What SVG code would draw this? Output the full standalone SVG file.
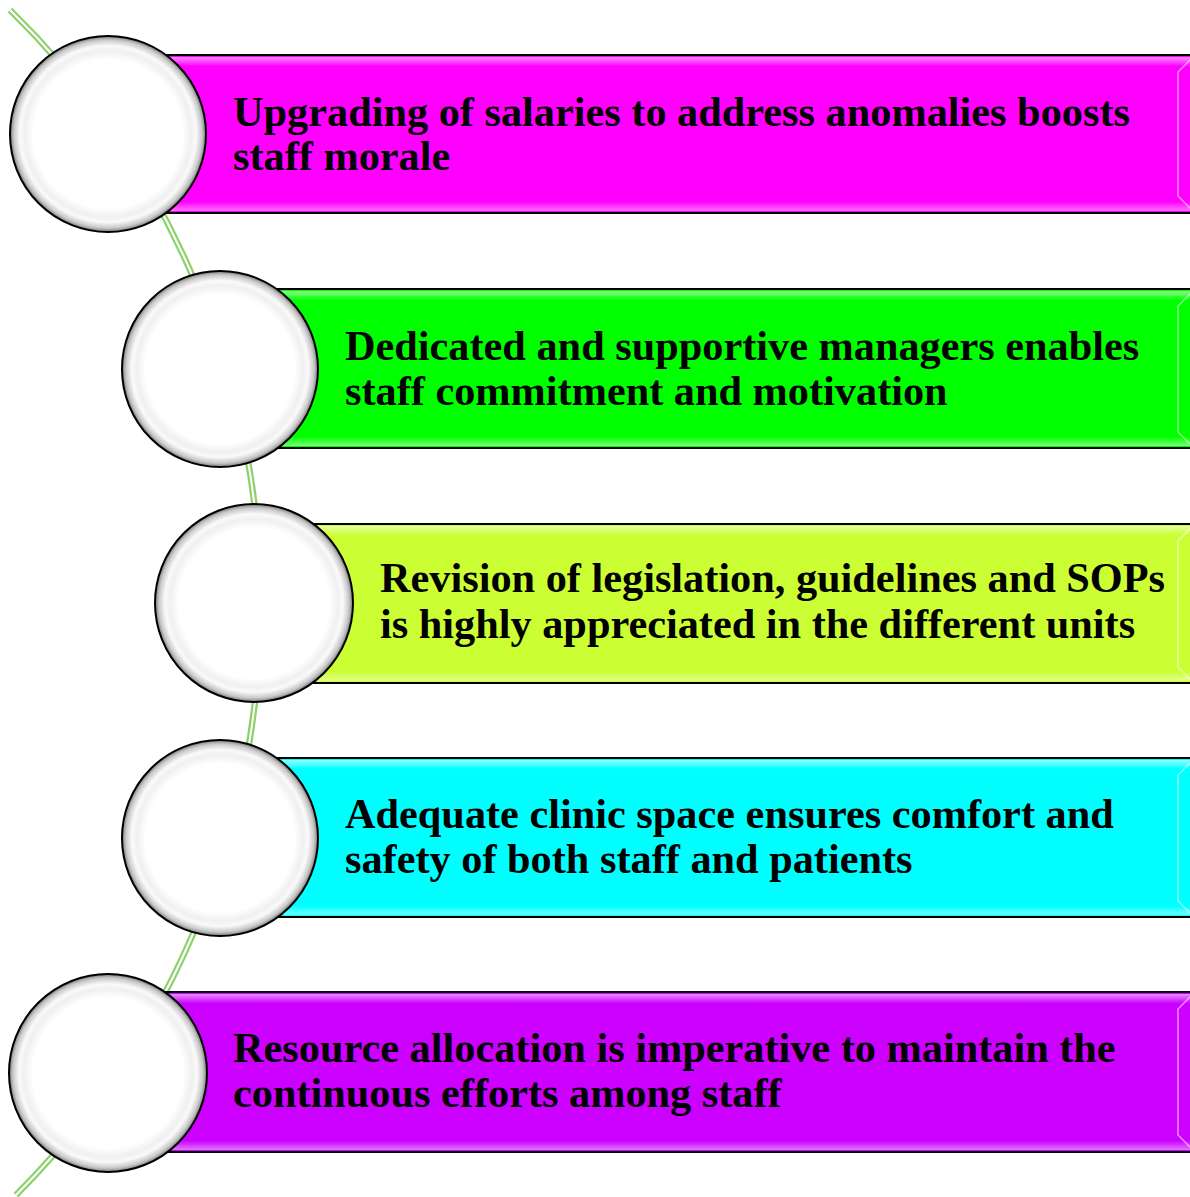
<svg xmlns="http://www.w3.org/2000/svg" width="1190" height="1197" viewBox="0 0 1190 1197">
<defs>
<radialGradient id="ball" cx="50%" cy="50%" r="50%">
<stop offset="0" stop-color="#ffffff"/>
<stop offset="0.76" stop-color="#ffffff"/>
<stop offset="0.85" stop-color="#f0f0f0"/>
<stop offset="0.9" stop-color="#fafafa"/>
<stop offset="0.96" stop-color="#c8c8c8"/>
<stop offset="1" stop-color="#7a7a7a"/>
</radialGradient>
<linearGradient id="glowT" x1="0" y1="0" x2="0" y2="1">
<stop offset="0" stop-color="#fff" stop-opacity="0.55"/>
<stop offset="0.06" stop-color="#fff" stop-opacity="0"/>
<stop offset="0.94" stop-color="#fff" stop-opacity="0"/>
<stop offset="1" stop-color="#fff" stop-opacity="0.45"/>
</linearGradient>
</defs>
<style>
.bar{stroke:#000;stroke-width:2}
.glow{fill:url(#glowT);stroke:none}
.bev{fill:none;stroke:#fff;stroke-opacity:0.55;stroke-width:1.5}
.ball{fill:url(#ball);stroke:#000;stroke-width:2}
.t{font-family:"Liberation Serif","Times New Roman",serif;font-weight:bold;font-size:42.3px;fill:#000}
.path1{fill:none;stroke:#8fd16f;stroke-width:6.5}
.path2{fill:none;stroke:#fff;stroke-width:2}
</style>
<g id="connectors">
<path class="path1" d="M 10 10 A 833 833 0 0 1 16 1195"/>
<path class="path2" d="M 10 10 A 833 833 0 0 1 16 1195"/>
</g>
<g id="node1">
<rect class="bar" x="108" y="55" width="1100" height="158" fill="#ff00ff"/>
<rect class="glow" x="109" y="57" width="1090" height="154"/>
<path class="bev" d="M 1190 60 L 1178 72 L 1178 196 L 1190 208"/>
<circle class="ball" cx="108" cy="134" r="98"/>
<text class="t" x="233" y="126">Upgrading of salaries to address anomalies boosts</text>
<text class="t" x="233" y="170">staff morale</text>
</g>
<g id="node2">
<rect class="bar" x="220" y="289" width="990" height="159" fill="#00ff00"/>
<rect class="glow" x="221" y="291" width="980" height="155"/>
<path class="bev" d="M 1190 294 L 1178 306 L 1178 432 L 1190 444"/>
<circle class="ball" cx="220" cy="369" r="98"/>
<text class="t" x="345" y="360">Dedicated and supportive managers enables</text>
<text class="t" x="345" y="405">staff commitment and motivation</text>
</g>
<g id="node3">
<rect class="bar" x="254" y="524" width="956" height="159" fill="#ccff33"/>
<rect class="glow" x="255" y="526" width="946" height="155"/>
<path class="bev" d="M 1190 529 L 1178 541 L 1178 667 L 1190 679"/>
<circle class="ball" cx="254" cy="603" r="99"/>
<text class="t" x="380" y="592">Revision of legislation, guidelines and SOPs</text>
<text class="t" x="380" y="638">is highly appreciated in the different units</text>
</g>
<g id="node4">
<rect class="bar" x="220" y="758" width="990" height="159" fill="#00ffff"/>
<rect class="glow" x="221" y="760" width="980" height="155"/>
<path class="bev" d="M 1190 763 L 1178 775 L 1178 901 L 1190 913"/>
<circle class="ball" cx="220" cy="838" r="98"/>
<text class="t" x="345" y="828">Adequate clinic space ensures comfort and</text>
<text class="t" x="345" y="873">safety of both staff and patients</text>
</g>
<g id="node5">
<rect class="bar" x="108" y="992" width="1100" height="160" fill="#cc00ff"/>
<rect class="glow" x="109" y="994" width="1090" height="156"/>
<path class="bev" d="M 1190 997 L 1178 1009 L 1178 1135 L 1190 1147"/>
<circle class="ball" cx="108" cy="1073" r="99"/>
<text class="t" x="233" y="1062">Resource allocation is imperative to maintain the</text>
<text class="t" x="233" y="1107">continuous efforts among staff</text>
</g>
</svg>
